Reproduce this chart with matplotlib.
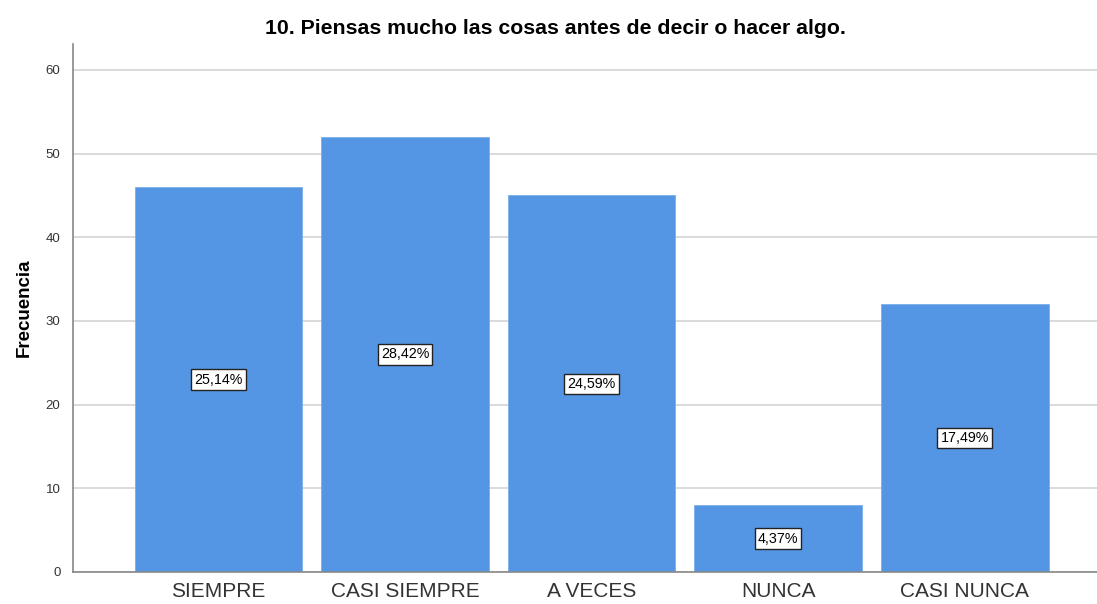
import matplotlib.pyplot as plt

plt.rcParams['font.family'] = ['Liberation Sans', 'DejaVu Sans']

categories = ['SIEMPRE', 'CASI SIEMPRE', 'A VECES', 'NUNCA', 'CASI NUNCA']
counts = [46, 52, 45, 8, 32]
pct_labels = ['25,14%', '28,42%', '24,59%', '4,37%', '17,49%']
title = '10. Piensas mucho las cosas antes de decir o hacer algo.'

fig = plt.figure(figsize=(10.97, 6.04), dpi=100)
ax = fig.add_axes([73 / 1097, 32 / 604, 1024 / 1097, 528 / 604])

x = range(len(categories))
ax.bar(x, counts, width=0.9, color='#5596e4', edgecolor='#7aaee9', linewidth=0.6, zorder=2)

for xi, c, lab in zip(x, counts, pct_labels):
    ax.text(xi, c / 2, lab, ha='center', va='center', fontsize=10.3, zorder=3,
            bbox=dict(boxstyle='square,pad=0.22', facecolor='white', edgecolor='#222222', linewidth=1))

ax.set_xlim(-0.78, 4.71)
ax.set_ylim(0, 63.1)
ax.set_yticks([0, 10, 20, 30, 40, 50, 60])
ax.set_xticks(list(x))
ax.set_xticklabels(categories, fontsize=15, color='#333333')
ax.tick_params(axis='y', labelsize=9.5, length=0, pad=9, labelcolor='#333333')
ax.tick_params(axis='x', length=0, pad=7)
ax.yaxis.grid(True, color='#d4d4d4', linewidth=1.2, zorder=0)
ax.set_axisbelow(True)

for s in ['top', 'right']:
    ax.spines[s].set_visible(False)
ax.spines['left'].set_color('#888888')
ax.spines['bottom'].set_color('#888888')
ax.spines['left'].set_linewidth(1.2)
ax.spines['bottom'].set_linewidth(1.2)

ax.set_ylabel('Frecuencia', fontsize=13.5, fontweight='bold', labelpad=9)
fig.text(555 / 1097, 1 - 28 / 604, title, fontsize=15.3, fontweight='bold',
         ha='center', va='center')

fig.savefig('out.png', dpi=100)
